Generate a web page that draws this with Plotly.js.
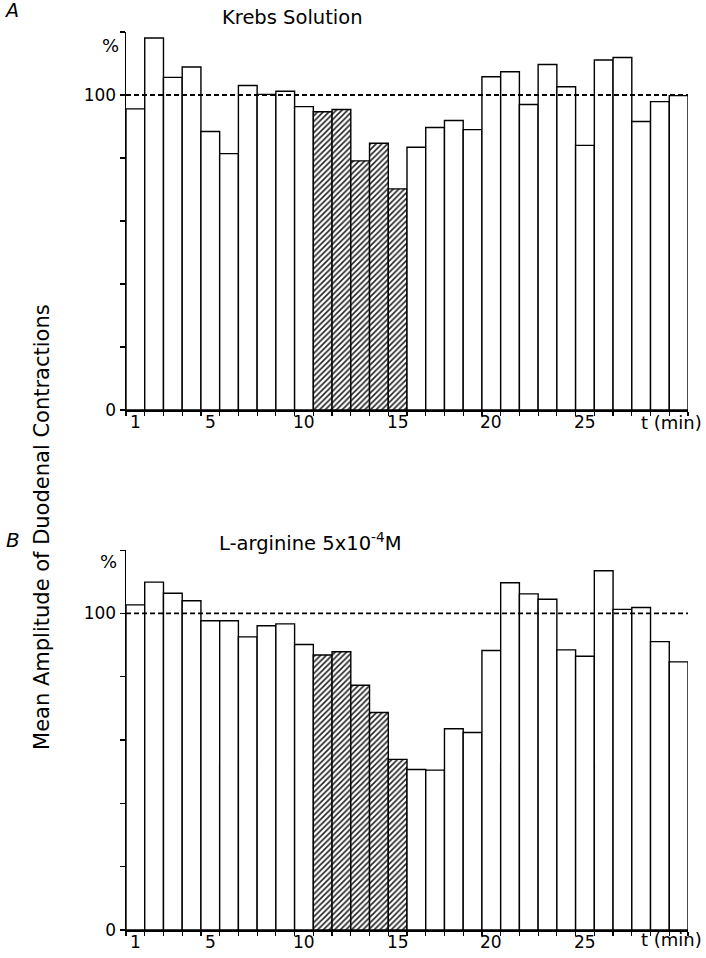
<!DOCTYPE html>
<html>
<head>
<meta charset="utf-8">
<script src="https://cdn.plot.ly/plotly-3.0.1.min.js"></script>
<style>
  body { margin: 0; background: #fff; }
  #chart { width: 706px; height: 958px; }
</style>
</head>
<body>
<div id="chart"></div>
<script>
// minutes 1..30
const minutes = Array.from({length: 30}, (_, i) => i + 1);
const treatedMinutes = [11, 12, 13, 14, 15];

// mean amplitude, % of control
const krebs = [95.6, 118.1, 105.6, 108.9, 88.4, 81.4, 103.0, 100.2, 101.2, 96.3,
               94.7, 95.4, 79.1, 84.7, 70.2, 83.4, 89.7, 91.9, 89.0, 105.8,
               107.4, 97.0, 109.7, 102.6, 84.0, 111.1, 111.9, 91.6, 97.9, 99.8];
const arginine = [102.7, 109.9, 106.4, 104.0, 97.7, 97.7, 92.6, 96.1, 96.7, 90.2,
                  86.9, 87.9, 77.3, 68.7, 53.9, 50.7, 50.5, 63.6, 62.4, 88.3,
                  109.7, 106.2, 104.5, 88.5, 86.5, 113.5, 101.3, 101.9, 91.1, 84.7];

const xLabelVals = [1, 5, 10, 15, 20, 25];
const yTickVals = [0, 20, 40, 60, 80, 100, 120];
const yTickText = ['0', ' ', ' ', ' ', ' ', '100', ' '];
const baseline = 100;

// x tick marks sit on the bar edges, the numbers under the bar centres
const binEdges = minutes.map(m => m - 0.5).concat([minutes[minutes.length - 1] + 0.5]);
const xRange = [binEdges[0], binEdges[binEdges.length - 1]];

const FONT = 'DejaVu Sans, Arial, sans-serif';
const topDomain = [0.579, 1];
const botDomain = [0, 0.423];

const barTrace = (y, xa, ya) => ({
  type: 'bar',
  x: minutes,
  y: y,
  xaxis: xa,
  yaxis: ya,
  width: 1,
  marker: {
    color: '#fff',
    line: {color: '#000', width: 1.4},
    pattern: {
      shape: minutes.map(m => treatedMinutes.includes(m) ? '/' : ''),
      fgcolor: '#222',
      bgcolor: '#fff',
      size: 4,
      solidity: 0.4
    }
  },
  hoverinfo: 'x+y',
  showlegend: false
});

const xAxis = (anchor) => ({
  anchor: anchor,
  range: xRange,
  tickmode: 'array',
  tickvals: binEdges,
  ticktext: binEdges.map(() => ' '),
  ticks: 'outside',
  ticklen: 4,
  tickwidth: 1.2,
  tickcolor: '#000',
  showline: true,
  linecolor: '#000',
  linewidth: 1.5,
  showgrid: false,
  zeroline: false
});

const yAxis = (anchor, domain) => ({
  anchor: anchor,
  domain: domain,
  range: [0, 120],
  tickvals: yTickVals,
  ticktext: yTickText,
  ticks: 'outside',
  ticklen: 5,
  tickwidth: 1.2,
  tickcolor: '#000',
  showline: true,
  linecolor: '#000',
  linewidth: 1.5,
  showgrid: false,
  zeroline: false,
  tickfont: {family: FONT, size: 17, color: '#000'}
});

const dashLine = (yref) => ({
  type: 'line', xref: 'paper', yref: yref,
  x0: 0, x1: 1, y0: baseline, y1: baseline,
  line: {color: '#000', width: 1.8, dash: '5px,3px'}
});

const note = (text, x, y, size, opts = {}) => Object.assign({
  text: text, x: x, y: y, xref: 'paper', yref: 'paper',
  xanchor: 'center', yanchor: 'middle',
  showarrow: false, font: {family: FONT, size: size, color: '#000'}
}, opts);

const xLabels = (xref, yPaper) => xLabelVals.map(v =>
  note(String(v), v, yPaper, 17, {xref: xref, yshift: -12}));

const layout = {
  width: 706,
  height: 958,
  margin: {l: 126, r: 18, t: 32, b: 28},
  paper_bgcolor: '#fff',
  plot_bgcolor: '#fff',
  bargap: 0,
  xaxis: xAxis('y'),
  yaxis: yAxis('x', topDomain),
  xaxis2: xAxis('y2'),
  yaxis2: yAxis('x2', botDomain),
  shapes: [dashLine('y'), dashLine('y2')],
  annotations: [
    note('<i>A</i>', -0.203, 1.025, 19),
    note('Krebs Solution', 0.167, 1.0156, 19.5, {xanchor: 'left'}),
    note('%', -0.028, 0.9855, 18),
    note('t (min)', 0.9715, 0.5657, 18),
    note('<i>B</i>', -0.201, 0.4343, 20),
    note('L-arginine 5x10<sup>-4</sup>M', 0.162, 0.4321, 19.5, {xanchor: 'left'}),
    note('%', -0.032, 0.4098, 18),
    note('t (min)', 0.9715, -0.011, 18),
    note('Mean Amplitude of Duodenal Contractions', -0.1495, 0.4488, 21, {textangle: -90})
  ].concat(xLabels('x', topDomain[0]), xLabels('x2', botDomain[0]))
};

Plotly.newPlot('chart', [barTrace(krebs, 'x', 'y'), barTrace(arginine, 'x2', 'y2')], layout,
  {displayModeBar: false, staticPlot: true});
</script>
</body>
</html>
